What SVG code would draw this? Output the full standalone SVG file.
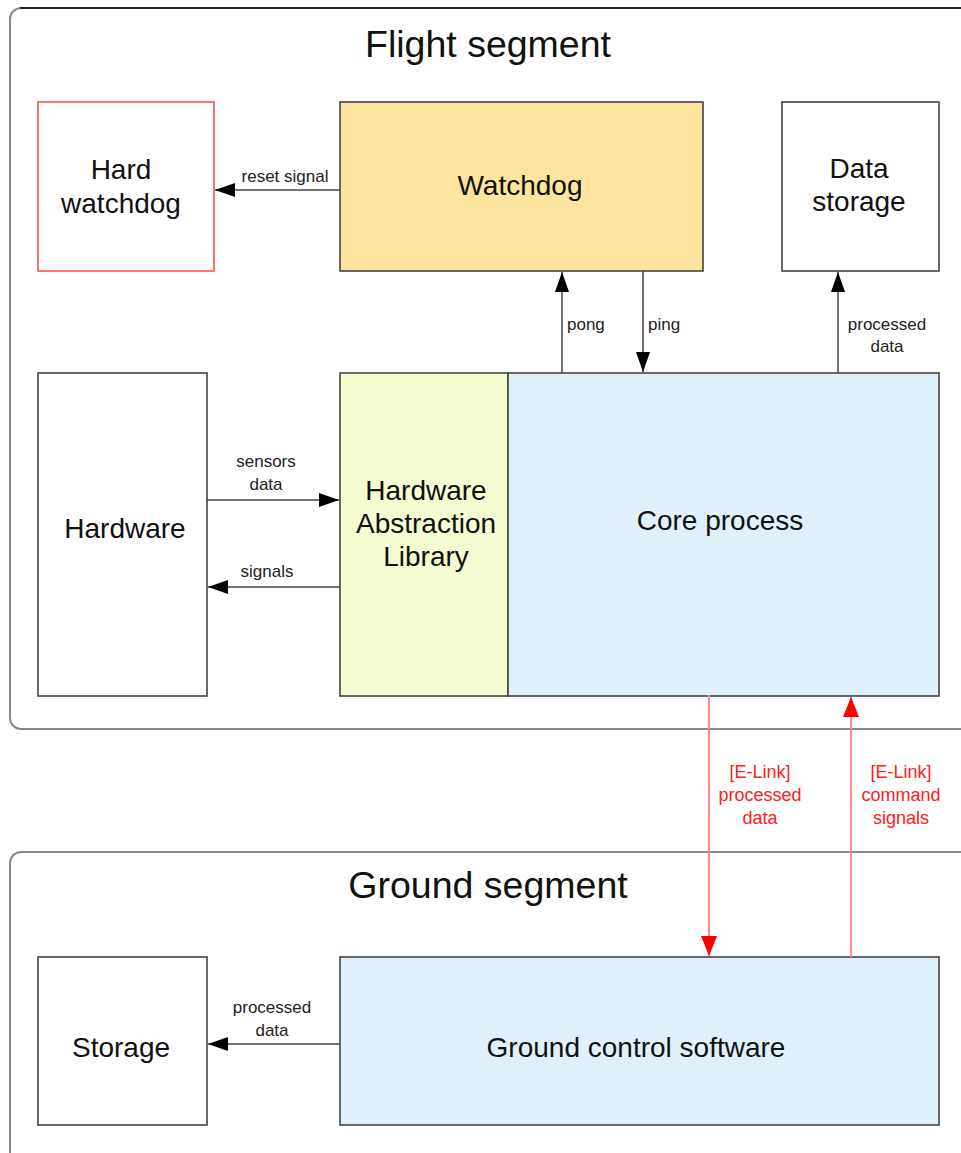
<svg xmlns="http://www.w3.org/2000/svg" width="961" height="1153" viewBox="0 0 961 1153">
<defs>
<style>
text{font-family:"Liberation Sans",Arial,sans-serif;fill:#111}
.title{font-size:37.5px;text-anchor:middle}
.big{font-size:28px;text-anchor:middle}
.sm{font-size:17px;text-anchor:middle;fill:#222}
.st{text-anchor:start}
.red{font-size:18px;text-anchor:middle;fill:#ff2020}
.box{stroke:#444;stroke-width:1.6}
.cont{fill:#fff;stroke:#888;stroke-width:2}
.c{stroke:#444;stroke-width:1.5;fill:none}
.r{stroke:#ff8a8a;stroke-width:2;fill:none}
</style>
<marker id="ah" viewBox="0 0 20 14" refX="20" refY="7" markerWidth="20" markerHeight="14" markerUnits="userSpaceOnUse" orient="auto"><path d="M0,0 L20,7 L0,14 Z" fill="#000"/></marker>
<marker id="ahr" viewBox="0 0 20 16" refX="20" refY="8" markerWidth="20" markerHeight="16" markerUnits="userSpaceOnUse" orient="auto"><path d="M0,0 L20,8 L0,16 Z" fill="#ff0000"/></marker>
</defs>
<rect width="961" height="1153" fill="#fff"/>
<g id="flight-segment">
<rect class="cont" x="10" y="8" width="990" height="721" rx="11"/>
<line x1="20" y1="8" x2="961" y2="8" stroke="#222" stroke-width="2"/>
<text class="title" x="488" y="57">Flight segment</text>
</g>
<g id="ground-segment">
<rect class="cont" x="10" y="852" width="990" height="340" rx="11"/>
<text class="title" x="488" y="898">Ground segment</text>
</g>
<g id="hard-watchdog">
<rect x="38" y="102" width="176" height="169" fill="#fff" stroke="#ff5050" stroke-width="1.6"/>
<text class="big" x="121" y="179">Hard</text>
<text class="big" x="121" y="213">watchdog</text>
</g>
<g id="watchdog">
<rect class="box" x="340" y="102" width="363" height="169" fill="#fee59f"/>
<text class="big" x="520" y="195">Watchdog</text>
</g>
<g id="data-storage">
<rect class="box" x="782" y="102" width="157" height="169" fill="#fff" stroke="#666"/>
<text class="big" x="859" y="178">Data</text>
<text class="big" x="859" y="211">storage</text>
</g>
<g id="hardware">
<rect class="box" x="38" y="373" width="169" height="323" fill="#fff"/>
<text class="big" x="125" y="538">Hardware</text>
</g>
<g id="hal">
<rect class="box" x="340" y="373" width="168" height="323" fill="#f5fccf"/>
<text class="big" x="426" y="500">Hardware</text>
<text class="big" x="426" y="533">Abstraction</text>
<text class="big" x="426" y="566">Library</text>
</g>
<g id="core-process">
<rect class="box" x="508" y="373" width="431" height="323" fill="#e1f1fc"/>
<text class="big" x="720" y="530">Core process</text>
</g>
<g id="storage">
<rect class="box" x="38" y="957" width="169" height="168" fill="#fff"/>
<text class="big" x="121" y="1057">Storage</text>
</g>
<g id="ground-control">
<rect class="box" x="340" y="957" width="599" height="168" fill="#e1f1fc"/>
<text class="big" x="636" y="1057">Ground control software</text>
</g>
<g id="connectors">
<line class="c" x1="340" y1="190" x2="215" y2="190" marker-end="url(#ah)"/>
<text class="sm" x="285" y="182">reset signal</text>
<line class="c" x1="562" y1="373" x2="562" y2="272" marker-end="url(#ah)"/>
<text class="sm st" x="567" y="330">pong</text>
<line class="c" x1="643" y1="271" x2="643" y2="372" marker-end="url(#ah)"/>
<text class="sm st" x="648" y="330">ping</text>
<line class="c" x1="838" y1="373" x2="838" y2="272" marker-end="url(#ah)"/>
<text class="sm" x="887" y="330">processed</text>
<text class="sm" x="887" y="352">data</text>
<line class="c" x1="207" y1="500" x2="339" y2="500" marker-end="url(#ah)"/>
<text class="sm" x="266" y="467">sensors</text>
<text class="sm" x="266" y="490">data</text>
<line class="c" x1="340" y1="587" x2="208" y2="587" marker-end="url(#ah)"/>
<text class="sm" x="267" y="577">signals</text>
<line class="c" x1="340" y1="1044" x2="208" y2="1044" marker-end="url(#ah)"/>
<text class="sm" x="272" y="1013">processed</text>
<text class="sm" x="272" y="1036">data</text>
<line class="r" x1="709" y1="695" x2="709" y2="956" marker-end="url(#ahr)"/>
<text class="red" x="760" y="778">[E-Link]</text>
<text class="red" x="760" y="801">processed</text>
<text class="red" x="760" y="824">data</text>
<line class="r" x1="851" y1="957" x2="851" y2="697" marker-end="url(#ahr)"/>
<text class="red" x="901" y="778">[E-Link]</text>
<text class="red" x="901" y="801">command</text>
<text class="red" x="901" y="824">signals</text>
</g>
</svg>
